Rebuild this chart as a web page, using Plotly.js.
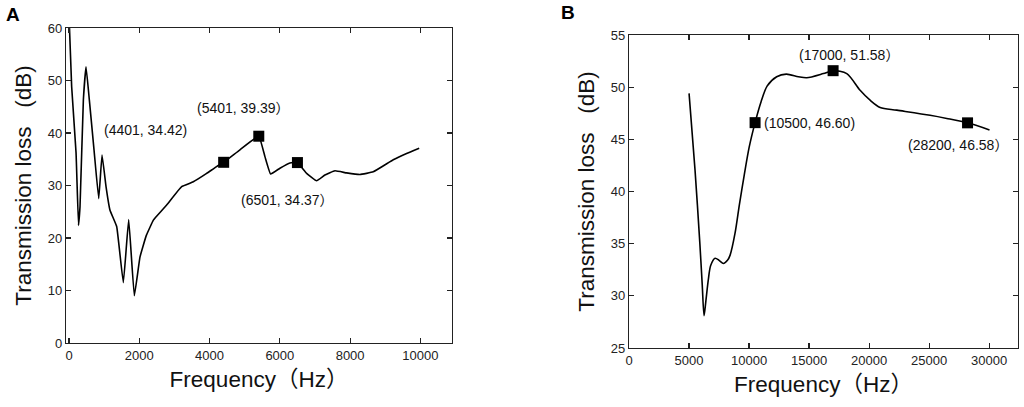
<!DOCTYPE html>
<html>
<head>
<meta charset="utf-8">
<script src="https://cdn.plot.ly/plotly-3.0.1.min.js"></script>
<style>
    html, body { margin: 0; padding: 0; background: #fff; }
    #chart { width: 1024px; height: 407px; }
</style>
</head>
<body>
<div id="chart"></div>
<script>
// Panel A: transmission loss, 0-10000 Hz
const freqA = [10, 75, 200, 270, 313, 408, 484, 578, 711, 845, 939, 1053, 1166, 1356, 1545, 1698, 1858,
    2020, 2200, 2400, 2460, 2779, 3205, 3537, 3917, 4201, 4401, 4865, 5401, 5576, 5738, 6003, 6287, 6501,
    6762, 7046, 7283, 7568, 7900, 8279, 8658, 9227, 9607, 9966];
const lossA = [60.5, 48.8, 36.2, 22.4, 26, 46.3, 52.6, 46.3, 36.8, 27.5, 35.8, 29.8, 25.3, 22.2, 11.5, 23.5, 9.0,
    16.4, 20.5, 23.4, 23.9, 26.3, 29.8, 30.7, 32.3, 33.6, 34.42, 36.8, 39.39, 35.5, 32.2, 33.3, 34.3, 34.37,
    32.3, 30.9, 32.0, 32.8, 32.4, 32.1, 32.6, 34.9, 36.1, 37.1];
const markFreqA = [4401, 5401, 6501];
const markLossA = [34.42, 39.39, 34.37];
const labelsA = ['(4401, 34.42)', '(5401, 39.39\uff09', '(6501, 34.37\uff09'];

// Panel B: transmission loss, 5000-30000 Hz
const freqB = [5000, 5500, 5900, 6100, 6250, 6400, 6600, 6800, 7170, 7500, 7860, 8200, 8420, 8830, 9200, 9600, 10000, 10500,
    11000, 11500, 12300, 13100, 14110, 14800, 16190, 17000, 18140, 19250, 20080, 20920, 22310, 25080, 26470, 28200, 30030];
const lossB = [49.4, 42.0, 35.0, 31.0, 28.1, 29.5, 31.5, 32.9, 33.6, 33.4, 33.1, 33.4, 33.9, 36.0, 38.8, 41.6, 44.2, 46.6,
    48.6, 50.1, 51.0, 51.25, 51.0, 50.9, 51.3, 51.58, 51.3, 49.7, 48.75, 48.05, 47.8, 47.3, 47.0, 46.58, 45.9];
const markFreqB = [10500, 17000, 28200];
const markLossB = [46.60, 51.58, 46.58];
const labelsB = ['(10500, 46.60)', '(17000, 51.58\uff09', '(28200, 46.58\uff09'];

const FONT = 'Liberation Sans, Arial, Noto Sans CJK SC, sans-serif';

function axisStyle(extra) {
    return Object.assign({
        showline: true,
        linecolor: '#222',
        linewidth: 1.3,
        mirror: 'ticks',
        ticks: 'inside',
        ticklen: 5,
        tickwidth: 1.2,
        tickcolor: '#222',
        showgrid: false,
        zeroline: false,
        tickformat: 'd',
        tickfont: { family: FONT, size: 13, color: '#222' }
    }, extra);
}

const lineStyle = { color: '#000', width: 1.6 };
const markerStyle = { symbol: 'square', size: 11, color: '#000' };

const data = [
    { x: freqA, y: lossA, type: 'scatter', mode: 'lines', line: Object.assign({ shape: 'spline', smoothing: 0.3 }, lineStyle),
      xaxis: 'x', yaxis: 'y', hoverinfo: 'skip' },
    { x: markFreqA, y: markLossA, type: 'scatter', mode: 'markers', marker: markerStyle, xaxis: 'x', yaxis: 'y' },
    { x: freqB, y: lossB, type: 'scatter', mode: 'lines', line: Object.assign({ shape: 'spline', smoothing: 0.8 }, lineStyle),
      xaxis: 'x2', yaxis: 'y2', hoverinfo: 'skip' },
    { x: markFreqB, y: markLossB, type: 'scatter', mode: 'markers', marker: markerStyle, xaxis: 'x2', yaxis: 'y2' }
];

const titleFont = { family: FONT, size: 22.5, color: '#111' };

// pixel offsets of each label from its marker
const offsA = [[-78, 32], [-15, 28], [-10, -37]];
const offsB = [[54, 0], [16, 16], [-10, -22]];

const annotations = [];
labelsA.forEach((t, i) => annotations.push({
    x: markFreqA[i], y: markLossA[i], xref: 'x', yref: 'y', text: t, showarrow: false,
    xshift: offsA[i][0], yshift: offsA[i][1], font: { family: FONT, size: 14, color: '#111' }
}));
labelsB.forEach((t, i) => annotations.push({
    x: markFreqB[i], y: markLossB[i], xref: 'x2', yref: 'y2', text: t, showarrow: false,
    xshift: offsB[i][0], yshift: offsB[i][1], font: { family: FONT, size: 14, color: '#111' }
}));
annotations.push({ x: 0.004, y: 0.995, xref: 'paper', yref: 'paper', text: '<b>A</b>', showarrow: false,
    xanchor: 'left', yanchor: 'top', font: { family: FONT, size: 19, color: '#000' } });
annotations.push({ x: 0.546, y: 1.0, xref: 'paper', yref: 'paper', text: '<b>B</b>', showarrow: false,
    xanchor: 'left', yanchor: 'top', font: { family: FONT, size: 19, color: '#000' } });

const layout = {
    width: 1024,
    height: 407,
    margin: { l: 0, r: 0, t: 0, b: 0 },
    showlegend: false,
    paper_bgcolor: '#fff',
    plot_bgcolor: '#fff',
    xaxis: axisStyle({
        domain: [0.0645, 0.4414], range: [-85, 10900], tickvals: [0, 2000, 4000, 6000, 8000, 10000],
        title: { text: 'Frequency\uff08Hz\uff09', font: titleFont, standoff: 9 }
    }),
    yaxis: axisStyle({
        domain: [0.1572, 0.9312], range: [0, 60], tickvals: [0, 10, 20, 30, 40, 50, 60],
        title: { text: 'Transmission loss\u00a0\u00a0\u00a0(dB)', font: titleFont, standoff: 9 }
    }),
    xaxis2: axisStyle({
        domain: [0.6143, 0.9941], range: [0, 32400], tickvals: [0, 5000, 10000, 15000, 20000, 25000, 30000],
        anchor: 'y2',
        title: { text: 'Frequency\uff08Hz\uff09', font: titleFont, standoff: 9 }
    }),
    yaxis2: axisStyle({
        domain: [0.145, 0.914], range: [25, 55], tickvals: [25, 30, 35, 40, 45, 50, 55],
        anchor: 'x2',
        title: { text: 'Transmission loss\u00a0\u00a0\u00a0(dB)', font: titleFont, standoff: 9 }
    }),
    annotations: annotations
};

Plotly.newPlot('chart', data, layout, { displayModeBar: false, staticPlot: true });
</script>
</body>
</html>
